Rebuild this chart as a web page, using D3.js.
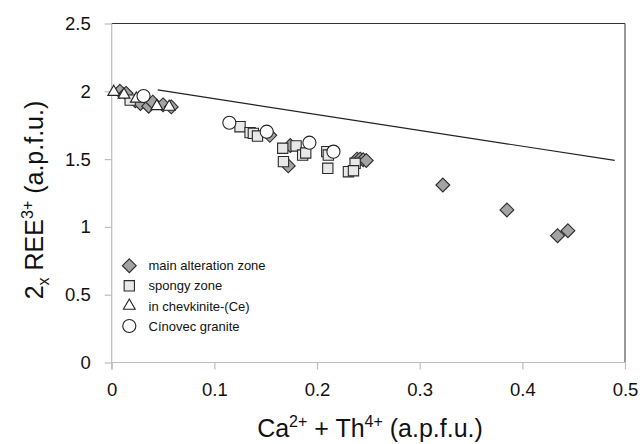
<!DOCTYPE html>
<html><head><meta charset="utf-8">
<script src="https://cdn.jsdelivr.net/npm/d3@7"></script>
<style>body{margin:0;background:#fff}svg{display:block;font-family:"Liberation Sans",Arial,sans-serif}</style>
</head><body><svg id="c" width="644" height="444"></svg>
<script>
const xTicks = [0, 0.1, 0.2, 0.3, 0.4, 0.5];
const yTicks = [0, 0.5, 1, 1.5, 2, 2.5];
const seriesNames = ["main alteration zone", "spongy zone", "in chevkinite-(Ce)", "Cínovec granite"];
const mainAlteration = [[0.008,2.0],[0.014,1.985],[0.023,1.93],[0.028,1.91],[0.036,1.89],[0.040,1.92],[0.050,1.90],[0.058,1.885],
  [0.154,1.675],[0.172,1.45],[0.174,1.60],[0.239,1.50],[0.242,1.50],[0.245,1.495],[0.248,1.49],
  [0.3226,1.309],[0.385,1.125],[0.4343,0.935],[0.4444,0.972]];
const spongy = [[0.018,1.935],[0.125,1.739],[0.1348,1.695],[0.138,1.690],[0.142,1.670],[0.1666,1.580],[0.1796,1.597],
  [0.186,1.530],[0.189,1.545],[0.1673,1.481],[0.2095,1.555],[0.211,1.530],[0.2105,1.432],[0.2371,1.469],[0.2306,1.407],[0.2355,1.414]];
const chevkinite = [[0.002,1.995],[0.012,1.975],[0.024,1.945],[0.044,1.89],[0.056,1.885]];
const granite = [[0.031,1.965],[0.1146,1.768],[0.151,1.702],[0.1926,1.621],[0.216,1.555]];
const trendLine = [[0.0448,2.01],[0.49,1.49]];

const svg = d3.select("#c");
const x = d3.scaleLinear().domain([0,0.5]).range([111.7,625]);
const y = d3.scaleLinear().domain([0,2.5]).range([362.5,23.5]);

// frame
svg.append("line").attr("x1",x(0)).attr("x2",x(0.5)).attr("y1",y(2.5)).attr("y2",y(2.5)).attr("stroke","#333").attr("stroke-width",1.2);
svg.append("line").attr("x1",x(0.5)).attr("x2",x(0.5)).attr("y1",y(2.5)).attr("y2",y(0)).attr("stroke","#555").attr("stroke-width",1.2);

const xa = svg.append("g").attr("transform",`translate(0,${y(0)})`)
  .call(d3.axisBottom(x).tickValues(xTicks).tickFormat(d3.format("")).tickSize(7).tickPadding(13));
const ya = svg.append("g").attr("transform",`translate(${x(0)},0)`)
  .call(d3.axisLeft(y).tickValues(yTicks).tickFormat(d3.format("")).tickSize(7).tickPadding(14));
[xa,ya].forEach(a=>{
  a.selectAll("path,line").attr("stroke","#bdbdbd").attr("stroke-width",1.2);
  a.selectAll("text").attr("font-size",18.5).attr("fill","#111").attr("font-family","Liberation Sans, Arial, sans-serif");
});
xa.select(".domain").attr("d",`M${x(0)},0H${x(0.5)}`);
ya.select(".domain").attr("d",`M0,${y(0)+7}V${y(2.5)}`);

// trend line
svg.append("path").datum(trendLine).attr("fill","none").attr("stroke","#222").attr("stroke-width",1.2)
  .attr("d", d3.line().x(d=>x(d[0])).y(d=>y(d[1])));

const styles = [
  {sym:d3.symbolDiamond2, size:122, fill:"#a3a3a3", stroke:"#2a2a2a"},
  {sym:d3.symbolSquare2, size:135, fill:"#e8e8e8", stroke:"#2a2a2a"},
  {sym:d3.symbolTriangle2, size:100, fill:"#fff", stroke:"#222"},
  {sym:d3.symbolCircle, size:135, fill:"#fff", stroke:"#222"}
];
function shape(s){ return d3.symbol().type(s.sym).size(s.size)(); }
const allSeries = [mainAlteration, spongy, chevkinite, granite];
allSeries.forEach((data,i)=>{
  const s = styles[i];
  svg.append("g").selectAll("path").data(data).join("path")
    .attr("transform",d=>`translate(${x(d[0])},${y(d[1])})`)
    .attr("d",shape(s)).attr("fill",s.fill).attr("stroke",s.stroke).attr("stroke-width",1.1);
});

// legend
const lg = svg.append("g");
seriesNames.forEach((n,i)=>{
  const s = styles[i];
  const cy = 265.7 + i*20.1;
  lg.append("path").attr("transform",`translate(129.3,${cy})`).attr("d",shape(s))
    .attr("fill",s.fill).attr("stroke",s.stroke).attr("stroke-width",1.1);
  lg.append("text").attr("x",148.5).attr("y",cy+4.6).attr("font-size",13).attr("fill","#111").text(n);
});

// x title
const xt = svg.append("text").attr("x",370).attr("y",437).attr("text-anchor","middle").attr("font-size",25).attr("fill","#111");
xt.append("tspan").text("Ca");
xt.append("tspan").attr("font-size",16).attr("dy",-10).text("2+");
xt.append("tspan").attr("dy",10).text(" + Th");
xt.append("tspan").attr("font-size",16).attr("dy",-10).text("4+");
xt.append("tspan").attr("dy",10).text(" (a.p.f.u.)");

// y title
const yt = svg.append("text").attr("transform","translate(43,200) rotate(-90)").attr("text-anchor","middle").attr("font-size",25).attr("fill","#111");
yt.append("tspan").text("2");
yt.append("tspan").attr("font-size",16).attr("dy",6).text("x");
yt.append("tspan").attr("dy",-6).text(" REE");
yt.append("tspan").attr("font-size",16).attr("dy",-10).text("3+");
yt.append("tspan").attr("dy",10).text(" (a.p.f.u.)");
</script></body></html>
